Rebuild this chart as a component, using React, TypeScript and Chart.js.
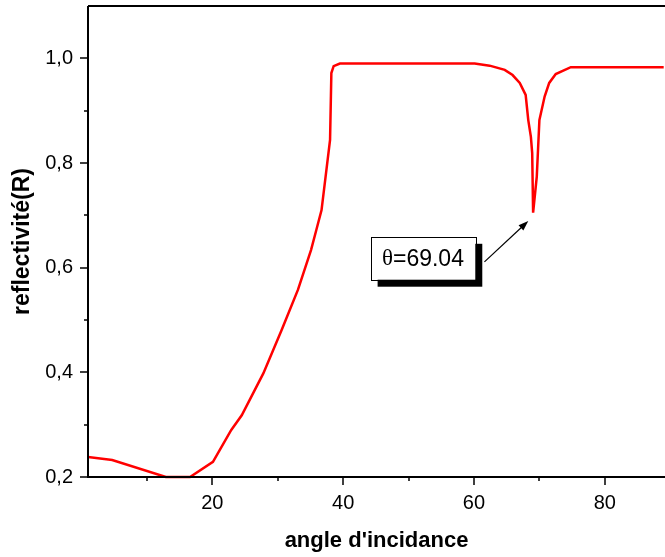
import React, { useEffect, useRef } from "react";
import { Chart, registerables } from "chart.js";

Chart.register(...registerables);

const angles = [1, 4.7, 12.9, 16.6, 20.1, 22.9, 24.5, 27.8, 30.6, 33.1, 35.1, 35.9, 36.7, 38.0, 38.2, 38.55, 39.5, 60.1, 62.4, 64.7, 65.9, 67.0, 67.9, 68.3, 68.7, 68.9, 69.04, 69.6, 70.0, 70.8, 71.5, 72.5, 74.8, 89];
const reflectivity = [0.238, 0.2325, 0.2, 0.2, 0.229, 0.29, 0.318, 0.398, 0.481, 0.558, 0.634, 0.672, 0.71, 0.844, 0.972, 0.985, 0.99, 0.99, 0.986, 0.978, 0.968, 0.953, 0.93, 0.882, 0.85, 0.819, 0.705, 0.774, 0.882, 0.927, 0.953, 0.97, 0.983, 0.983];
const xMajorTicks = [20, 40, 60, 80];
const xMinorTicks = [10, 30, 50, 70];
const yMajorTicks = [0.2, 0.4, 0.6, 0.8, 1.0];
const yMinorTicks = [0.3, 0.5, 0.7, 0.9];
const annotationText = "=69.04";
const annotationSymbol = "θ";

const annotation = {
  box: { x1: 44.2, x2: 60.2, y1: 0.659, y2: 0.577 },
  arrowFrom: { x: 61.6, y: 0.611 },
  arrowTo: { x: 68.3, y: 0.689 },
};

const FONT = "'Liberation Sans', Arial, sans-serif";

const framePlugin = {
  id: "frame",
  afterDraw(chart: any) {
    const ctx = chart.ctx;
    const { left, right, top, bottom } = chart.chartArea;
    const xs = chart.scales.x;
    const ys = chart.scales.y;
    ctx.save();
    ctx.strokeStyle = "#000";
    ctx.lineWidth = 2;
    ctx.beginPath();
    ctx.moveTo(left, top);
    ctx.lineTo(left, bottom);
    ctx.lineTo(right, bottom);
    ctx.moveTo(left, top);
    ctx.lineTo(right, top);
    ctx.stroke();
    ctx.lineWidth = 1.5;
    ctx.beginPath();
    xMajorTicks.forEach((v) => {
      const p = Math.round(xs.getPixelForValue(v));
      ctx.moveTo(p, bottom);
      ctx.lineTo(p, bottom + 8);
    });
    xMinorTicks.forEach((v) => {
      const p = Math.round(xs.getPixelForValue(v));
      ctx.moveTo(p, bottom);
      ctx.lineTo(p, bottom + 4);
    });
    yMajorTicks.forEach((v) => {
      const p = Math.round(ys.getPixelForValue(v));
      ctx.moveTo(left, p);
      ctx.lineTo(left - 8, p);
    });
    yMinorTicks.forEach((v) => {
      const p = Math.round(ys.getPixelForValue(v));
      ctx.moveTo(left, p);
      ctx.lineTo(left - 4, p);
    });
    ctx.stroke();

    // annotation
    const bx1 = xs.getPixelForValue(annotation.box.x1);
    const bx2 = xs.getPixelForValue(annotation.box.x2);
    const by1 = ys.getPixelForValue(annotation.box.y1);
    const by2 = ys.getPixelForValue(annotation.box.y2);
    const w = bx2 - bx1;
    const h = by2 - by1;
    ctx.fillStyle = "#000";
    ctx.fillRect(bx1 + 7, by1 + 7, w, h);
    ctx.fillStyle = "#fff";
    ctx.fillRect(bx1, by1, w, h);
    ctx.lineWidth = 1;
    ctx.strokeStyle = "#000";
    ctx.strokeRect(Math.round(bx1) + 0.5, Math.round(by1) + 0.5, Math.round(w), Math.round(h));

    ctx.fillStyle = "#000";
    ctx.textBaseline = "middle";
    ctx.font = `23px 'Liberation Serif', 'Times New Roman', serif`;
    const sw = ctx.measureText(annotationSymbol).width;
    ctx.font = `23px ${FONT}`;
    const tw = ctx.measureText(annotationText).width;
    const startX = bx1 + (w - sw - tw) / 2;
    const cy = by1 + h / 2 + 1;
    ctx.font = `23px 'Liberation Serif', 'Times New Roman', serif`;
    ctx.textAlign = "left";
    ctx.fillText(annotationSymbol, startX, cy);
    ctx.font = `23px ${FONT}`;
    ctx.fillText(annotationText, startX + sw, cy);

    const ax1 = xs.getPixelForValue(annotation.arrowFrom.x);
    const ay1 = ys.getPixelForValue(annotation.arrowFrom.y);
    const ax2 = xs.getPixelForValue(annotation.arrowTo.x);
    const ay2 = ys.getPixelForValue(annotation.arrowTo.y);
    const ang = Math.atan2(ay2 - ay1, ax2 - ax1);
    const hl = 10;
    const hw = 3.5;
    ctx.lineWidth = 1.2;
    ctx.beginPath();
    ctx.moveTo(ax1, ay1);
    ctx.lineTo(ax2 - Math.cos(ang) * hl * 0.8, ay2 - Math.sin(ang) * hl * 0.8);
    ctx.stroke();
    ctx.beginPath();
    ctx.moveTo(ax2, ay2);
    ctx.lineTo(ax2 - Math.cos(ang) * hl - Math.sin(ang) * hw, ay2 - Math.sin(ang) * hl + Math.cos(ang) * hw);
    ctx.lineTo(ax2 - Math.cos(ang) * hl + Math.sin(ang) * hw, ay2 - Math.sin(ang) * hl - Math.cos(ang) * hw);
    ctx.closePath();
    ctx.fill();
    ctx.restore();
  },
};

export default function App() {
  const ref = useRef<HTMLCanvasElement>(null);
  useEffect(() => {
    if (!ref.current) return;
    const chart = new Chart(ref.current, {
      type: "line",
      data: {
        datasets: [
          {
            data: angles.map((a, i) => ({ x: a, y: reflectivity[i] })),
            borderColor: "#ff0000",
            borderWidth: 2.5,
            pointRadius: 0,
            tension: 0,
            fill: false,
            clip: { left: 0, right: 0, top: 0, bottom: 2 } as any,
          },
        ],
      },
      options: {
        animation: false,
        responsive: false,
        maintainAspectRatio: false,
        layout: { padding: { top: 6, right: 0, left: 0, bottom: 0 } },
        plugins: { legend: { display: false }, tooltip: { enabled: false } },
        scales: {
          x: {
            type: "linear",
            min: 1,
            max: 89.2,
            afterFit: (s: any) => {
              s.height = 80;
              s.paddingLeft = 0;
              s.paddingRight = 0;
            },
            afterBuildTicks: (s: any) => {
              s.ticks = xMajorTicks.map((v) => ({ value: v }));
            },
            grid: { display: false, drawTicks: false },
            border: { display: false },
            ticks: {
              color: "#000",
              font: { family: FONT, size: 20 },
              padding: 14,
              maxRotation: 0,
              callback: (v: any) => String(v),
            },
            title: {
              display: true,
              text: "angle d'incidance",
              color: "#000",
              font: { family: FONT, size: 22, weight: "bold" },
              padding: { top: 3, bottom: 3 },
            },
          },
          y: {
            type: "linear",
            min: 0.2,
            max: 1.1,
            afterFit: (s: any) => {
              s.width = 88;
              s.paddingTop = 0;
              s.paddingBottom = 0;
            },
            afterBuildTicks: (s: any) => {
              s.ticks = yMajorTicks.map((v) => ({ value: v }));
            },
            grid: { display: false, drawTicks: false },
            border: { display: false },
            ticks: {
              color: "#000",
              font: { family: FONT, size: 20 },
              padding: 15,
              callback: (v: any) => Number(v).toFixed(1).replace(".", ","),
            },
            title: {
              display: true,
              text: "reflectivité(R)",
              color: "#000",
              font: { family: FONT, size: 23, weight: "bold" },
              padding: { top: 9, bottom: 9 },
            },
          },
        },
      },
      plugins: [framePlugin],
    });
    return () => chart.destroy();
  }, []);
  return (
    <div style={{ position: "absolute", left: 0, top: 0, width: 665, height: 557, background: "#fff" }}>
      <canvas ref={ref} width={665} height={557} style={{ width: 665, height: 557 }} />
    </div>
  );
}
